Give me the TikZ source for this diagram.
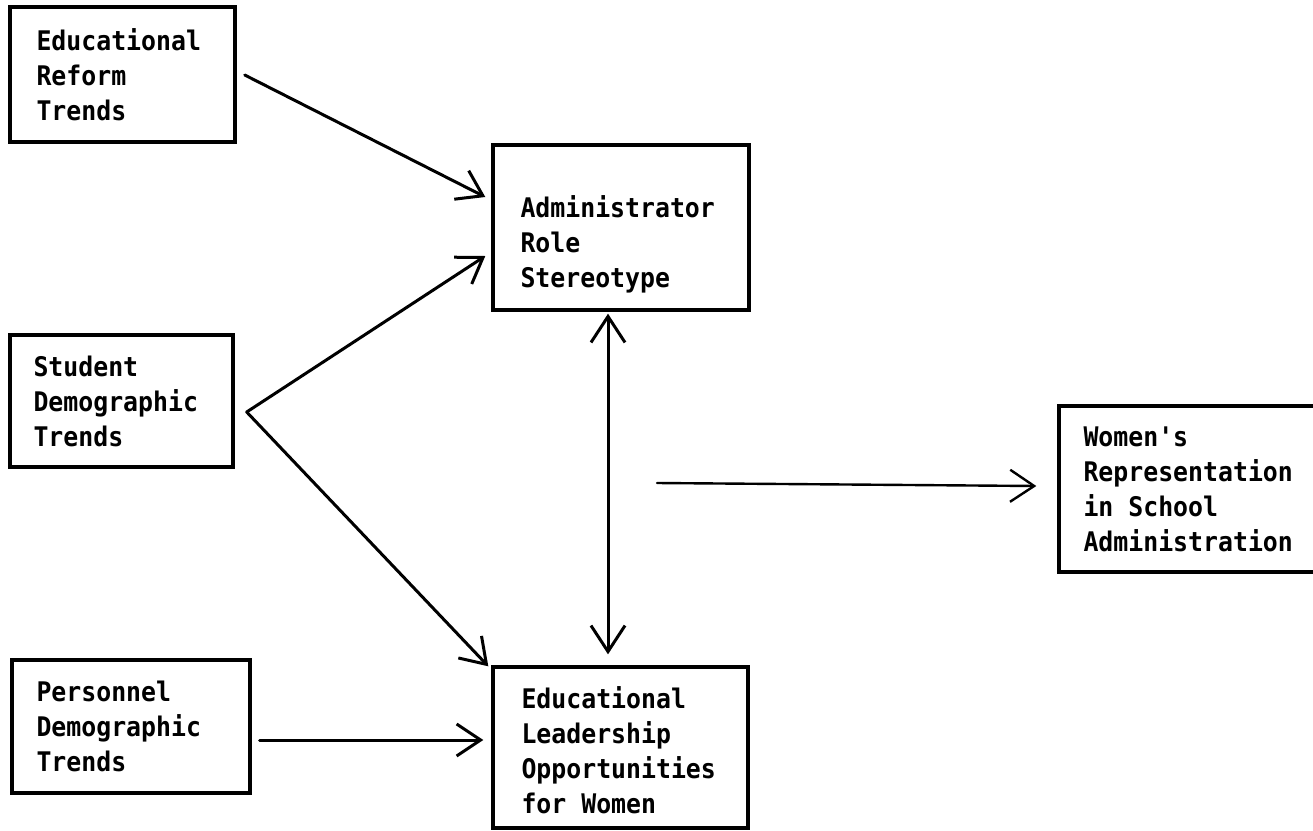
\documentclass[tikz,border=0pt]{standalone}
\usepackage{fontspec}
\setmonofont{DejaVu Sans Mono}[FakeStretch=0.92]
\usetikzlibrary{arrows.meta,positioning,calc}

\tikzset{
  box/.style={draw, line width=3.4pt, inner sep=0pt},
  txt/.style={align=left, inner sep=0pt, font=\ttfamily\bfseries\fontsize{27}{35}\selectfont},
  link/.style={line width=3pt, line cap=round, -{Straight Barb[length=24pt,width=32pt]}},
}

\begin{document}
\begin{tikzpicture}[x=1pt,y=1pt]
				\useasboundingbox (0,0) rectangle (1313,-830);
				% the boxes
				\node[box, minimum width=225pt, minimum height=135pt] (reform) at (122.5,-74.5) {};
				\node[txt, right=28pt of reform.west] {Educational\\Reform\\Trends};
				\node[box, minimum width=223pt, minimum height=132pt] (student) at (121.5,-401) {};
				\node[txt, right=25pt of student.west] {Student\\Demographic\\Trends};
				\node[box, minimum width=238pt, minimum height=133pt] (personnel) at (131,-726.5) {};
				\node[txt, right=26pt of personnel.west] {Personnel\\Demographic\\Trends};
				\node[box, minimum width=256pt, minimum height=165pt] (admin) at (621,-227.5) {};
				\node[txt, right=29pt of admin.west, yshift=-17pt] {Administrator\\Role\\Stereotype};
				\node[box, minimum width=255pt, minimum height=161pt] (leadership) at (620.5,-747.5) {};
				\node[txt, right=30pt of leadership.west, yshift=-3pt] {Educational\\Leadership\\Opportunities\\for Women};
				\node[box, minimum width=263pt, minimum height=166pt] (women) at (1190.5,-489) {};
				\node[txt, right=26pt of women.west] {Women's\\Representation\\in School\\Administration};
				% the arrows
				\coordinate (fork) at ($(student.east)+(12,-11)$);
				\coordinate (split) at (657,-483);
				\draw[link] ($(reform.east)+(8,-0.5)$) -- ($(admin.west)+(-6,30.5)$);
				\draw[link] (fork) -- ($(admin.west)+(-6,-28.5)$);
				\draw[link] (fork) -- ($(leadership.north west)+(-3,-1)$);
				\draw[link] ($(personnel.east)+(8,-13.5)$) -- ($(leadership.west)+(-8,7.5)$);
				\draw[link, {Straight Barb[length=26pt,width=34pt]}-{Straight Barb[length=26pt,width=34pt]}] ($(admin.south)+(-13,-2)$) -- ($(leadership.north)+(-12.5,11)$);
				\draw[link, line width=2.4pt] (split) -- ($(women.west)+(-21,3)$);
\end{tikzpicture}
\end{document}
